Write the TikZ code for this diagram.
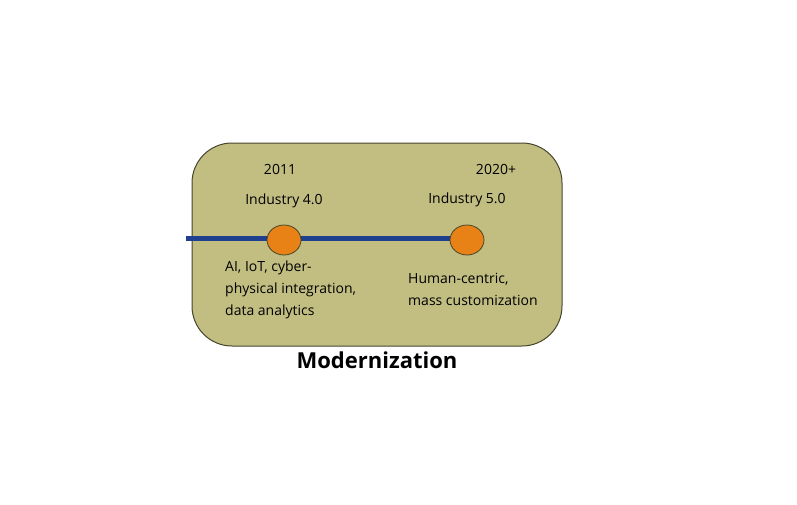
\documentclass[tikz,border=0pt]{standalone}
\usepackage{fontspec}
\usetikzlibrary{shapes.geometric}
\setmainfont{Open Sans}
\definecolor{boxfill}{RGB}{194,190,130}
\definecolor{boxline}{RGB}{70,70,45}
\definecolor{tline}{RGB}{31,63,143}
\definecolor{dot}{RGB}{232,130,22}
\begin{document}
\begin{tikzpicture}[x=1pt,y=-1pt,
  lbl/.style={font=\fontsize{14}{22}\selectfont,inner sep=0pt},
  dotnode/.style={ellipse,draw=boxline,fill=dot,minimum width=34pt,minimum height=30pt,inner sep=0pt,line width=0.8pt}]
\useasboundingbox (0,0) rectangle (797,504);
\draw[fill=boxfill,draw=boxline,line width=1pt,rounded corners=40pt] (192,143) rectangle (562,346);
\coordinate (start) at (186,238);
\draw[tline,line width=5pt] (start) -- (467,238) coordinate (lineend);
\node[dotnode] (d1) at (284,240) {};
\node[dotnode] (d2) at (467,240) {};
\node[lbl] (y1) at (280,169) {2011};
\node[lbl] (i4) at (284,201) {Industry 4.0};
\node[lbl] (y2) at (496,169) {2020+};
\node[lbl] (i5) at (467,200) {Industry 5.0};
\node[lbl,anchor=north west,align=left] (t1) at (225,261) {AI, IoT, cyber-\\physical integration,\\data analytics};
\node[lbl,anchor=north west,align=left] (t2) at (408,273) {Human-centric,\\mass customization};
\node[font=\bfseries\fontsize{22}{28}\selectfont,inner sep=0pt] (m) at (377,360) {Modernization};
\end{tikzpicture}
\end{document}
